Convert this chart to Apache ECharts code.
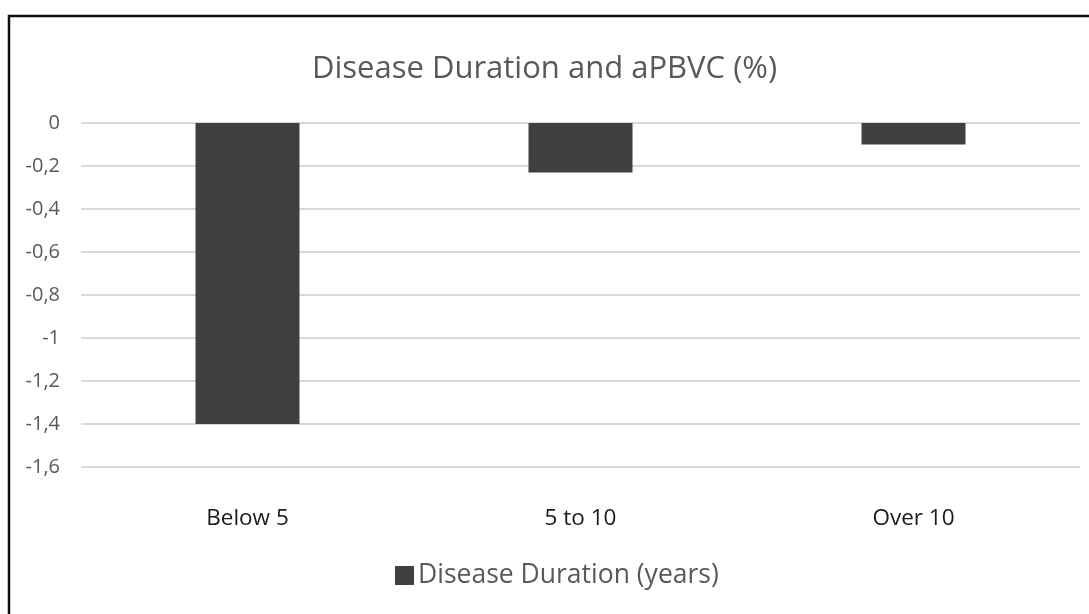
<!DOCTYPE html>
<html>
<head>
<meta charset="utf-8">
<script src="https://cdn.jsdelivr.net/npm/echarts@6/dist/echarts.min.js"></script>
<style>html,body{margin:0;padding:0;background:#fff;}#c{width:1089px;height:614px;}</style>
</head>
<body>
<div id="c"></div>
<script>
const categories = ["Below 5", "5 to 10", "Over 10"];
const seriesName = "Disease Duration (years)";
const values = [-1.4, -0.23, -0.1];
const titleText = "Disease Duration and aPBVC (%)";

const chart = echarts.init(document.getElementById('c'), null, {renderer: 'canvas'});
const font = '"Open Sans", "Noto Sans", sans-serif';
chart.setOption({
  animation: false,
  backgroundColor: '#ffffff',
  title: {
    text: titleText, left: 'center', top: 49,
    textStyle: {fontFamily: font, fontSize: 31, fontWeight: 'normal', color: '#595959'}
  },
  legend: {
    data: [seriesName], bottom: 20, left: 390,
    itemWidth: 19, itemHeight: 19, itemGap: 6,
    icon: 'rect',
    textStyle: {fontFamily: font, fontSize: 26.5, color: '#595959', padding: [0,0,0,-1]}
  },
  grid: {left: 81, right: 9, top: 123, bottom: 147, containLabel: false},
  xAxis: {
    type: 'category', data: categories,
    axisLine: {show: false}, axisTick: {show: false},
    axisLabel: {fontFamily: font, fontSize: 22.5, color: '#1a1a1a', margin: 40}
  },
  yAxis: {
    type: 'value', min: -1.6, max: 0, interval: 0.2,
    axisLine: {show: false}, axisTick: {show: false},
    splitLine: {lineStyle: {color: '#d9d9d9', width: 2}},
    axisLabel: {fontFamily: font, fontSize: 20, color: '#595959', margin: 21,
      formatter: v => String(+v.toFixed(1)).replace('.', ',')}
  },
  series: [{
    name: seriesName, type: 'bar', data: values,
    barWidth: 104,
    itemStyle: {color: '#404040'}
  }],
  graphic: [{
    type: 'rect', shape: {x: 9, y: 16, width: 1200, height: 800},
    style: {fill: 'none', stroke: '#111', lineWidth: 2.5}, z: 100
  }]
});
</script>
</body>
</html>
